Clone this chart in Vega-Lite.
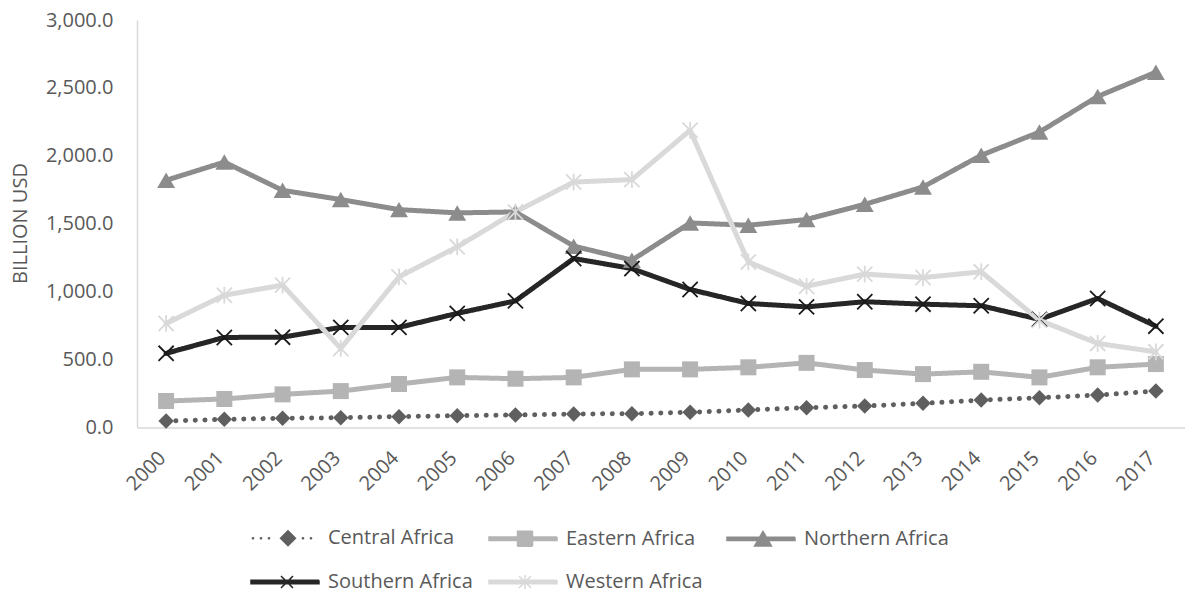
{
  "$schema": "https://vega.github.io/schema/vega-lite/v6.json",
  "width": 1048,
  "height": 407.5,
  "autosize": {"type": "none"},
  "padding": {"left": 137, "top": 20, "right": 0, "bottom": 166.5},
  "background": "white",
  "config": {
    "view": {"stroke": null},
    "font": "Open Sans",
    "axis": {
      "labelFont": "Open Sans",
      "labelFontSize": 20,
      "labelColor": "#595959",
      "titleFont": "Open Sans",
      "titleFontSize": 20,
      "titleFontWeight": "normal",
      "titleColor": "#595959",
      "domainColor": "#d9d9d9",
      "domainWidth": 1.5,
      "ticks": false,
      "tickSize": 0,
      "grid": false
    },
    "legend": {
      "labelFont": "Open Sans",
      "labelFontSize": 20,
      "labelColor": "#595959"
    }
  },
  "data": {
    "values": [
      {"year": "2000", "region": "Central Africa", "value": 48},
      {"year": "2001", "region": "Central Africa", "value": 60},
      {"year": "2002", "region": "Central Africa", "value": 68},
      {"year": "2003", "region": "Central Africa", "value": 72},
      {"year": "2004", "region": "Central Africa", "value": 80},
      {"year": "2005", "region": "Central Africa", "value": 87},
      {"year": "2006", "region": "Central Africa", "value": 92},
      {"year": "2007", "region": "Central Africa", "value": 99},
      {"year": "2008", "region": "Central Africa", "value": 102},
      {"year": "2009", "region": "Central Africa", "value": 112},
      {"year": "2010", "region": "Central Africa", "value": 129},
      {"year": "2011", "region": "Central Africa", "value": 146},
      {"year": "2012", "region": "Central Africa", "value": 158},
      {"year": "2013", "region": "Central Africa", "value": 178},
      {"year": "2014", "region": "Central Africa", "value": 202},
      {"year": "2015", "region": "Central Africa", "value": 219},
      {"year": "2016", "region": "Central Africa", "value": 239},
      {"year": "2017", "region": "Central Africa", "value": 268},
      {"year": "2000", "region": "Eastern Africa", "value": 195},
      {"year": "2001", "region": "Eastern Africa", "value": 210},
      {"year": "2002", "region": "Eastern Africa", "value": 244},
      {"year": "2003", "region": "Eastern Africa", "value": 268},
      {"year": "2004", "region": "Eastern Africa", "value": 320},
      {"year": "2005", "region": "Eastern Africa", "value": 369},
      {"year": "2006", "region": "Eastern Africa", "value": 359},
      {"year": "2007", "region": "Eastern Africa", "value": 369},
      {"year": "2008", "region": "Eastern Africa", "value": 428},
      {"year": "2009", "region": "Eastern Africa", "value": 428},
      {"year": "2010", "region": "Eastern Africa", "value": 443},
      {"year": "2011", "region": "Eastern Africa", "value": 476},
      {"year": "2012", "region": "Eastern Africa", "value": 423},
      {"year": "2013", "region": "Eastern Africa", "value": 393},
      {"year": "2014", "region": "Eastern Africa", "value": 410},
      {"year": "2015", "region": "Eastern Africa", "value": 369},
      {"year": "2016", "region": "Eastern Africa", "value": 443},
      {"year": "2017", "region": "Eastern Africa", "value": 467},
      {"year": "2000", "region": "Northern Africa", "value": 1820},
      {"year": "2001", "region": "Northern Africa", "value": 1954},
      {"year": "2002", "region": "Northern Africa", "value": 1746},
      {"year": "2003", "region": "Northern Africa", "value": 1678},
      {"year": "2004", "region": "Northern Africa", "value": 1604},
      {"year": "2005", "region": "Northern Africa", "value": 1580},
      {"year": "2006", "region": "Northern Africa", "value": 1587},
      {"year": "2007", "region": "Northern Africa", "value": 1335},
      {"year": "2008", "region": "Northern Africa", "value": 1232},
      {"year": "2009", "region": "Northern Africa", "value": 1506},
      {"year": "2010", "region": "Northern Africa", "value": 1489},
      {"year": "2011", "region": "Northern Africa", "value": 1531},
      {"year": "2012", "region": "Northern Africa", "value": 1643},
      {"year": "2013", "region": "Northern Africa", "value": 1771},
      {"year": "2014", "region": "Northern Africa", "value": 2004},
      {"year": "2015", "region": "Northern Africa", "value": 2175},
      {"year": "2016", "region": "Northern Africa", "value": 2437},
      {"year": "2017", "region": "Northern Africa", "value": 2616},
      {"year": "2000", "region": "Southern Africa", "value": 546},
      {"year": "2001", "region": "Southern Africa", "value": 663},
      {"year": "2002", "region": "Southern Africa", "value": 665},
      {"year": "2003", "region": "Southern Africa", "value": 737},
      {"year": "2004", "region": "Southern Africa", "value": 737},
      {"year": "2005", "region": "Southern Africa", "value": 840},
      {"year": "2006", "region": "Southern Africa", "value": 932},
      {"year": "2007", "region": "Southern Africa", "value": 1244},
      {"year": "2008", "region": "Southern Africa", "value": 1170},
      {"year": "2009", "region": "Southern Africa", "value": 1016},
      {"year": "2010", "region": "Southern Africa", "value": 913},
      {"year": "2011", "region": "Southern Africa", "value": 888},
      {"year": "2012", "region": "Southern Africa", "value": 926},
      {"year": "2013", "region": "Southern Africa", "value": 908},
      {"year": "2014", "region": "Southern Africa", "value": 896},
      {"year": "2015", "region": "Southern Africa", "value": 796},
      {"year": "2016", "region": "Southern Africa", "value": 950},
      {"year": "2017", "region": "Southern Africa", "value": 746},
      {"year": "2000", "region": "Western Africa", "value": 766},
      {"year": "2001", "region": "Western Africa", "value": 974},
      {"year": "2002", "region": "Western Africa", "value": 1048},
      {"year": "2003", "region": "Western Africa", "value": 582},
      {"year": "2004", "region": "Western Africa", "value": 1109},
      {"year": "2005", "region": "Western Africa", "value": 1330},
      {"year": "2006", "region": "Western Africa", "value": 1587},
      {"year": "2007", "region": "Western Africa", "value": 1807},
      {"year": "2008", "region": "Western Africa", "value": 1825},
      {"year": "2009", "region": "Western Africa", "value": 2188},
      {"year": "2010", "region": "Western Africa", "value": 1219},
      {"year": "2011", "region": "Western Africa", "value": 1040},
      {"year": "2012", "region": "Western Africa", "value": 1129},
      {"year": "2013", "region": "Western Africa", "value": 1104},
      {"year": "2014", "region": "Western Africa", "value": 1146},
      {"year": "2015", "region": "Western Africa", "value": 790},
      {"year": "2016", "region": "Western Africa", "value": 619},
      {"year": "2017", "region": "Western Africa", "value": 557}
    ]
  },
  "encoding": {
    "x": {
      "field": "year",
      "type": "ordinal",
      "sort": null,
      "scale": {"type": "point", "padding": 0.5},
      "axis": {"title": null, "labelAngle": -45, "labelPadding": 20, "labelOffset": -11}
    },
    "y": {
      "field": "value",
      "type": "quantitative",
      "scale": {"domain": [0, 3000], "nice": false},
      "axis": {
        "title": "BILLION USD",
        "values": [0, 500, 1000, 1500, 2000, 2500, 3000],
        "format": ",.1f",
        "labelPadding": 24,
        "titleAngle": 270,
        "titleAlign": "center",
        "titleBaseline": "middle",
        "titleX": -117,
        "titleY": 203
      }
    }
  },
  "layer": [
    {
      "mark": {"type": "line", "strokeWidth": 5, "strokeCap": "round", "strokeJoin": "round"},
      "encoding": {
        "color": {
          "field": "region",
          "type": "nominal",
          "scale": {
            "domain": ["Central Africa", "Eastern Africa", "Northern Africa", "Southern Africa", "Western Africa"],
            "range": ["#5f5f5f", "#b4b4b4", "#8c8c8c", "#262626", "#d9d9d9"]
          },
          "legend": {
            "title": null,
            "orient": "none",
            "legendX": 113,
            "legendY": 507,
            "direction": "horizontal",
            "columns": 3,
            "gridAlign": "all",
            "columnPadding": 13,
            "rowPadding": 21,
            "padding": 0,
            "symbolSize": 400,
            "symbolStrokeWidth": 1.5,
            "labelOffset": 56,
            "encode": {
              "symbols": {
                "update": {
                  "shape": {"signal": "datum.value === 'Central Africa' ? 'M-0.93,0a0.13,0.13 0 1,0 0.26,0a0.13,0.13 0 1,0 -0.26,0M-0.13,0a0.13,0.13 0 1,0 0.26,0a0.13,0.13 0 1,0 -0.26,0M0.67,0a0.13,0.13 0 1,0 0.26,0a0.13,0.13 0 1,0 -0.26,0M4.07,0a0.13,0.13 0 1,0 0.26,0a0.13,0.13 0 1,0 -0.26,0M4.87,0a0.13,0.13 0 1,0 0.26,0a0.13,0.13 0 1,0 -0.26,0M1.85,0L2.7,-0.85L3.55,0L2.7,0.85Z' : datum.value === 'Eastern Africa' ? 'M-1,-0.17H5.8V0.17H-1ZM1.85,-0.75H3.35V0.75H1.85Z' : datum.value === 'Northern Africa' ? 'M-1,-0.17H5.8V0.17H-1ZM2.6,-0.75L3.45,0.72L1.75,0.72Z' : datum.value === 'Southern Africa' ? 'M-1,-0.17H5.8V0.17H-1ZM2,-0.6L3.2,0.6M2,0.6L3.2,-0.6' : 'M-1,-0.17H5.8V0.17H-1ZM2,-0.6L3.2,0.6M2,0.6L3.2,-0.6M2.6,-0.7V0.7'"},
                  "fill": {"scale": "color", "field": "value"},
                  "stroke": {"scale": "color", "field": "value"},
                  "strokeWidth": {"value": 1.5},
                  "strokeDash": {"value": []},
                  "opacity": {"value": 1}
                }
              }
            }
          }
        },
        "strokeDash": {
          "field": "region",
          "type": "nominal",
          "scale": {
            "domain": ["Central Africa", "Eastern Africa", "Northern Africa", "Southern Africa", "Western Africa"],
            "range": [[0.1, 9.6], [1, 0], [1, 0], [1, 0], [1, 0]]
          },
          "legend": null
        }
      }
    },
    {
      "transform": [{"filter": {"field": "region", "equal": "Central Africa"}}],
      "mark": {"type": "point", "shape": "diamond", "size": 240, "filled": true, "color": "#5f5f5f", "strokeWidth": 1, "opacity": 1}
    },
    {
      "transform": [{"filter": {"field": "region", "equal": "Eastern Africa"}}],
      "mark": {"type": "point", "shape": "square", "size": 256, "filled": true, "color": "#b4b4b4", "strokeWidth": 1, "opacity": 1}
    },
    {
      "transform": [{"filter": {"field": "region", "equal": "Northern Africa"}}],
      "mark": {"type": "point", "shape": "triangle-up", "size": 320, "filled": true, "color": "#8c8c8c", "strokeWidth": 1, "opacity": 1}
    },
    {
      "transform": [{"filter": {"field": "region", "equal": "Southern Africa"}}],
      "mark": {"type": "point", "shape": "M-1,-1L1,1M-1,1L1,-1", "size": 230, "filled": false, "color": "#1a1a1a", "strokeWidth": 1.8, "opacity": 1}
    },
    {
      "transform": [{"filter": {"field": "region", "equal": "Western Africa"}}],
      "mark": {"type": "point", "shape": "M-1,-1L1,1M-1,1L1,-1M0,-1.1V1.1", "size": 230, "filled": false, "color": "#d9d9d9", "strokeWidth": 1.8, "opacity": 1}
    }
  ]
}
